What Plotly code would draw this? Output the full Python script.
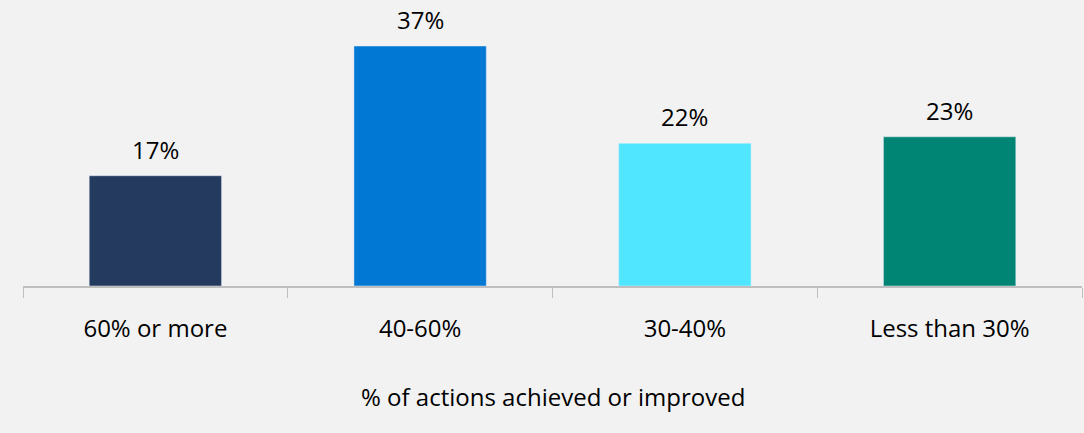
import plotly.graph_objects as go

categories = ["60% or more", "40-60%", "30-40%", "Less than 30%"]
values = [17, 37, 22, 23]
labels = ["17%", "37%", "22%", "23%"]
colors = ["#243a5e", "#0078d4", "#50e6ff", "#008575"]

FONT = "Open Sans, Noto Sans, sans-serif"
FS = 24

fig = go.Figure(go.Bar(
    x=categories, y=values, marker_color=colors, width=0.5, hoverinfo="skip",
))

annotations = [dict(text=t, x=c, y=v, xref="x", yref="y", showarrow=False,
                    yanchor="bottom", yshift=8,
                    font=dict(size=FS, color="#000000", family=FONT))
               for c, v, t in zip(categories, values, labels)]
annotations.append(dict(text="% of actions achieved or improved", xref="paper", yref="paper",
                        x=0.5, y=0, yshift=-110, showarrow=False, yanchor="middle",
                        font=dict(size=FS, color="#000000", family=FONT)))

fig.update_layout(
    width=1084, height=433,
    paper_bgcolor="#f2f2f2", plot_bgcolor="#f2f2f2",
    margin=dict(l=23, r=2, t=10, b=147),
    showlegend=False,
    font=dict(family=FONT, size=FS, color="#000000"),
    xaxis=dict(showline=True, linecolor="#bfbfbf", linewidth=1.5,
               ticks="outside", tickson="boundaries", ticklen=10, tickcolor="#bfbfbf",
               tickfont=dict(size=FS, color="#000000"), ticklabelstandoff=20,
               showgrid=False),
    yaxis=dict(visible=False, range=[0, 42.55], showgrid=False),
    annotations=annotations,
)

fig.write_html("out.html", config={"displayModeBar": False},
               post_script="document.body.style.margin='0';document.body.style.background='#f2f2f2';")
